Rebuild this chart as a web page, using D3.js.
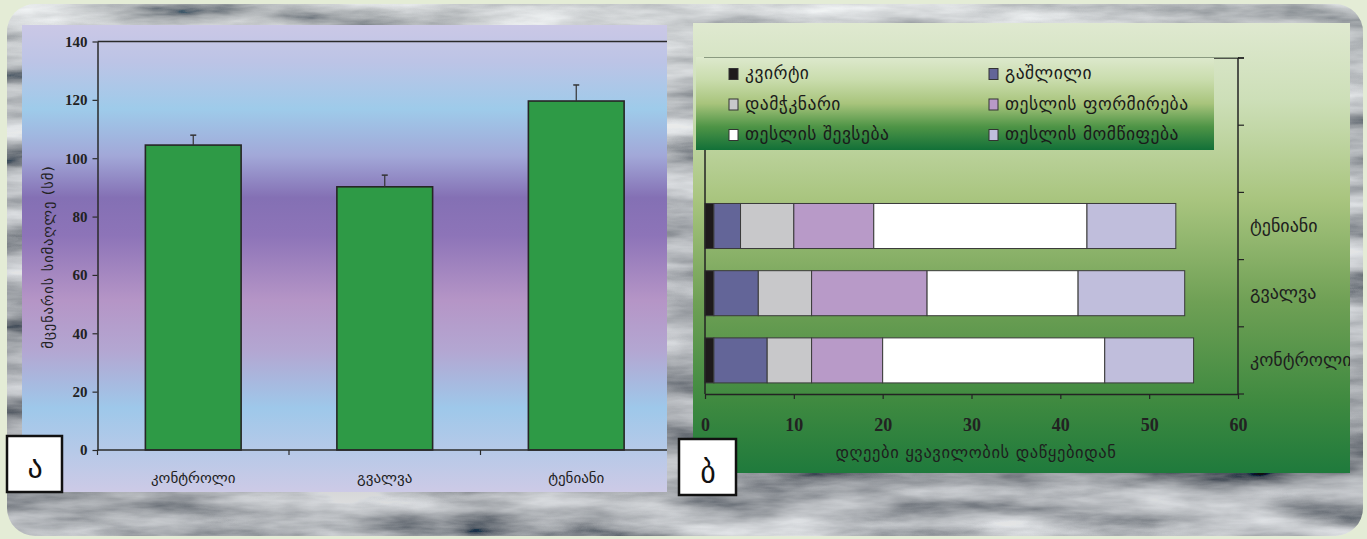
<!DOCTYPE html>
<html><head><meta charset="utf-8">
<script src="https://cdn.jsdelivr.net/npm/d3@7"></script>
<style>html,body{margin:0;padding:0;background:#e6eed8;} svg{display:block}</style>
</head><body><svg id="c" width="1367" height="539"></svg>
<script>
// ---------- DATA ----------
const categories = ["კონტროლი", "გვალვა", "ტენიანი"];
const heightMeans = [104.5, 90.2, 119.6];
const heightErrors = [3.4, 4.0, 5.5];
const heightTicks = [0, 20, 40, 60, 80, 100, 120, 140];
const heightTitle = "მცენარის სიმაღლე (სმ)";

const phases = ["კვირტი", "გაშლილი", "დამჭკნარი", "თესლის ფორმირება", "თესლის შევსება", "თესლის მომწიფება"];
// durations in days, order of categories: კონტროლი, გვალვა, ტენიანი
const budDays       = [1, 1, 1];
const openDays      = [6, 5, 3];
const wiltDays      = [5, 6, 6];
const seedFormDays  = [8, 13, 9];
const seedFillDays  = [25, 17, 24];
const seedRipeDays  = [10, 12, 10];
const dayTicks = [0, 10, 20, 30, 40, 50, 60];
const dayTitle = "დღეები ყვავილობის დაწყებიდან";
const panelLabels = ["ა", "ბ"];

// ---------- SETUP ----------
const svg = d3.select("#c");
const defs = svg.append("defs");
const GEO = "'DejaVu Sans', sans-serif";
const NUM = "'Liberation Serif', serif";

// stone texture
const f = defs.append("filter").attr("id", "stone").attr("x", 0).attr("y", 0).attr("width", "100%").attr("height", "100%");
f.append("feTurbulence").attr("type", "fractalNoise").attr("baseFrequency", "0.007 0.035").attr("numOctaves", 5).attr("seed", 11).attr("result", "n");
f.append("feColorMatrix").attr("in", "n").attr("type", "matrix")
  .attr("values", "1.5 0 0 0 -0.24  1.5 0 0 0 -0.22  1.5 0 0 0 -0.19  0 0 0 0 1");
defs.append("clipPath").attr("id", "frameClip").append("rect")
  .attr("x", 7).attr("y", 4).attr("width", 1356).attr("height", 532).attr("rx", 28);

svg.append("rect").attr("width", 1367).attr("height", 539).attr("fill", "#e4ecd6");
const fr = svg.append("g").attr("clip-path", "url(#frameClip)");
fr.append("rect").attr("x", 7).attr("y", 4).attr("width", 1356).attr("height", 532).attr("filter", "url(#stone)");
const shade = defs.append("linearGradient").attr("id", "shade").attr("x1", 0).attr("y1", 0).attr("x2", 0).attr("y2", 1);
shade.append("stop").attr("offset", 0).attr("stop-color", "#d8dcd8").attr("stop-opacity", 0.3);
shade.append("stop").attr("offset", 0.5).attr("stop-color", "#707478").attr("stop-opacity", 0.2);
shade.append("stop").attr("offset", 0.88).attr("stop-color", "#3a3e44").attr("stop-opacity", 0.25);
shade.append("stop").attr("offset", 1).attr("stop-color", "#8a8e90").attr("stop-opacity", 0.2);
fr.append("rect").attr("x", 7).attr("y", 4).attr("width", 1356).attr("height", 532).attr("fill", "url(#shade)");

function vgrad(id, stops) {
  const g = defs.append("linearGradient").attr("id", id).attr("x1", 0).attr("y1", 0).attr("x2", 0).attr("y2", 1);
  stops.forEach(s => g.append("stop").attr("offset", s[0]).attr("stop-color", s[1]));
}
vgrad("leftBg", [[0, "#cbc8e6"], [0.08, "#bcc4e6"], [0.18, "#9ecbea"], [0.28, "#a2a8d8"], [0.37, "#8470b4"], [0.45, "#8d74b8"], [0.59, "#b595c6"], [0.7, "#b3a7d2"], [0.82, "#9ec8ea"], [1, "#cdcae6"]]);
vgrad("rightBg", [[0, "#dfe9d0"], [0.17, "#cddfb8"], [0.39, "#a9c57f"], [0.62, "#6fa055"], [0.84, "#3f8a40"], [1, "#1f7a3c"]]);
vgrad("legBg", [[0, "#dde9cd"], [0.25, "#c9dcac"], [0.5, "#a8c47c"], [0.75, "#4e9446"], [1, "#127038"]]);

// ---------- LEFT PANEL ----------
const L = {x0: 22, y0: 25, x1: 667, y1: 492};
defs.append("clipPath").attr("id", "leftClip").append("rect")
  .attr("x", L.x0).attr("y", L.y0).attr("width", L.x1 - L.x0).attr("height", L.y1 - L.y0);
const lp = svg.append("g").attr("clip-path", "url(#leftClip)");
lp.append("rect").attr("x", L.x0).attr("y", L.y0).attr("width", L.x1 - L.x0).attr("height", L.y1 - L.y0).attr("fill", "url(#leftBg)");

const xL = d3.scaleBand().domain(categories).range([97.5, 97.5 + 3 * 191.5]).paddingInner(0.5).paddingOuter(0.25);
const yL = d3.scaleLinear().domain([0, 140]).range([450, 41.5]);

lp.append("line").attr("x1", 97.5).attr("x2", 680).attr("y1", yL(140)).attr("y2", yL(140)).attr("stroke", "#2a2a2a").attr("stroke-width", 1.5);

lp.selectAll("rect.bar").data(categories).join("rect").attr("class", "bar")
  .attr("x", d => xL(d)).attr("width", xL.bandwidth())
  .attr("y", (d, i) => yL(heightMeans[i])).attr("height", (d, i) => yL(0) - yL(heightMeans[i]))
  .attr("fill", "#2e9a46").attr("stroke", "#262626").attr("stroke-width", 1.6);
const eb = lp.selectAll("g.err").data(categories).join("g").attr("class", "err");
eb.append("line").attr("x1", d => xL(d) + xL.bandwidth() / 2).attr("x2", d => xL(d) + xL.bandwidth() / 2)
  .attr("y1", (d, i) => yL(heightMeans[i])).attr("y2", (d, i) => yL(heightMeans[i] + heightErrors[i]))
  .attr("stroke", "#333").attr("stroke-width", 1.2);
eb.append("line").attr("x1", d => xL(d) + xL.bandwidth() / 2 - 3).attr("x2", d => xL(d) + xL.bandwidth() / 2 + 3)
  .attr("y1", (d, i) => yL(heightMeans[i] + heightErrors[i])).attr("y2", (d, i) => yL(heightMeans[i] + heightErrors[i]))
  .attr("stroke", "#333").attr("stroke-width", 1.5);

const yAx = lp.append("g").attr("transform", "translate(97.5,0)")
  .call(d3.axisLeft(yL).tickValues(heightTicks).tickSize(5).tickPadding(5).tickSizeOuter(0));
yAx.select(".domain").attr("stroke", "#2a2a2a").attr("stroke-width", 1.5);
yAx.selectAll(".tick line").attr("stroke", "#2a2a2a").attr("stroke-width", 1.2);
yAx.selectAll("text").attr("font-family", NUM).attr("font-weight", "bold").attr("font-size", 15).attr("fill", "#222");

const xAx = lp.append("g").attr("transform", "translate(0,450)")
  .call(d3.axisBottom(xL).tickSize(0).tickPadding(22));
xAx.select(".domain").remove();
xAx.selectAll("text").attr("font-family", GEO).attr("font-size", 15).attr("fill", "#1e1e1e");
lp.append("line").attr("x1", 97.5).attr("x2", 680).attr("y1", 450).attr("y2", 450).attr("stroke", "#2a2a2a").attr("stroke-width", 1.5);
lp.selectAll("line.bt").data(d3.range(categories.length + 1)).join("line").attr("class", "bt")
  .attr("x1", i => 97.5 + i * xL.step()).attr("x2", i => 97.5 + i * xL.step())
  .attr("y1", 450).attr("y2", 455).attr("stroke", "#2a2a2a").attr("stroke-width", 1.2);

lp.append("text").attr("transform", "translate(49,257) rotate(-90)").attr("text-anchor", "middle")
  .attr("dominant-baseline", "middle").attr("font-family", GEO).attr("font-size", 14.5).attr("fill", "#222")
  .attr("letter-spacing", 0.9).text(heightTitle);

// ---------- RIGHT PANEL ----------
const R = {x0: 693, y0: 23, x1: 1350, y1: 473};
defs.append("clipPath").attr("id", "rightClip").append("rect")
  .attr("x", R.x0).attr("y", R.y0).attr("width", R.x1 - R.x0).attr("height", R.y1 - R.y0);
const rp = svg.append("g").attr("clip-path", "url(#rightClip)");
rp.append("rect").attr("x", R.x0).attr("y", R.y0).attr("width", R.x1 - R.x0).attr("height", R.y1 - R.y0).attr("fill", "url(#rightBg)");

const slots = ["·1", "·2", "ტენიანი", "გვალვა", "კონტროლი"];
const xR = d3.scaleLinear().domain([0, 60]).range([705, 1238]);
const yR = d3.scaleBand().domain(slots).range([58, 394]).paddingInner(0.33).paddingOuter(0.165);

const phaseArrays = [budDays, openDays, wiltDays, seedFormDays, seedFillDays, seedRipeDays];
const phaseColors = ["#1e1a1c", "#636598", "#c8c8ca", "#b89ac8", "#ffffff", "#c0bedc"];
const rows = categories.map((c, i) => {
  const o = {cat: c};
  phases.forEach((p, j) => o[p] = phaseArrays[j][i]);
  return o;
});
const stacked = d3.stack().keys(phases)(rows);
const col = d3.scaleOrdinal().domain(phases).range(phaseColors);

rp.selectAll("g.layer").data(stacked).join("g").attr("class", "layer").attr("fill", d => col(d.key))
  .selectAll("rect").data(d => d).join("rect")
  .attr("x", d => xR(d[0])).attr("width", d => xR(d[1]) - xR(d[0]))
  .attr("y", d => yR(d.data.cat)).attr("height", yR.bandwidth())
  .attr("stroke", "#3a3a3a").attr("stroke-width", 1);

const frameC = "#232323";
rp.append("line").attr("x1", xR(0)).attr("x2", xR(0)).attr("y1", 58).attr("y2", 394).attr("stroke", frameC).attr("stroke-width", 1.5);
rp.append("line").attr("x1", xR(60)).attr("x2", xR(60)).attr("y1", 57).attr("y2", 394).attr("stroke", frameC).attr("stroke-width", 1.5);
rp.append("line").attr("x1", xR(0)).attr("x2", xR(60) + 6).attr("y1", 58).attr("y2", 58).attr("stroke", frameC).attr("stroke-width", 1.5);

const xrAx = rp.append("g").attr("transform", "translate(0,394)")
  .call(d3.axisBottom(xR).tickValues(dayTicks).tickSize(5).tickPadding(19).tickSizeOuter(0));
xrAx.select(".domain").attr("stroke", frameC).attr("stroke-width", 1.5);
xrAx.selectAll(".tick line").attr("stroke", frameC).attr("stroke-width", 1.2);
xrAx.selectAll("text").attr("font-family", NUM).attr("font-weight", "bold").attr("font-size", 18).attr("fill", "#222");

const yrAx = rp.append("g").attr("transform", `translate(${xR(60)},0)`)
  .call(d3.axisRight(yR).tickSize(0).tickPadding(12).tickFormat(d => categories.includes(d) ? d : ""));
yrAx.select(".domain").remove();
yrAx.selectAll("text").attr("font-family", GEO).attr("font-size", 18).attr("fill", "#1e1e1e");
rp.selectAll("line.rt").data(d3.range(slots.length + 1)).join("line").attr("class", "rt")
  .attr("x1", xR(60)).attr("x2", xR(60) + 6)
  .attr("y1", i => 58 + i * yR.step()).attr("y2", i => 58 + i * yR.step())
  .attr("stroke", frameC).attr("stroke-width", 1.2);

rp.append("text").attr("x", 976).attr("y", 453).attr("text-anchor", "middle").attr("dominant-baseline", "middle")
  .attr("font-family", GEO).attr("font-size", 16.5).attr("fill", "#1e1e1e").attr("letter-spacing", 0.6).text(dayTitle);

const leg = rp.append("g");
leg.append("rect").attr("x", 696).attr("y", 57).attr("width", 518).attr("height", 93).attr("fill", "url(#legBg)");
leg.append("line").attr("x1", 704).attr("x2", 1238).attr("y1", 57.5).attr("y2", 57.5).attr("stroke", "#8a9a80").attr("stroke-width", 1);
const legRowY = [74, 104.5, 135];
const legColX = [729, 989];
const li = leg.selectAll("g.li").data(phases).join("g").attr("class", "li")
  .attr("transform", (d, i) => `translate(${legColX[i % 2]},${legRowY[Math.floor(i / 2)]})`);
li.append("rect").attr("x", 0).attr("y", -5.5).attr("width", 9).attr("height", 11)
  .attr("fill", d => col(d)).attr("stroke", "#333").attr("stroke-width", 1);
li.append("text").attr("x", 16).attr("y", 0).attr("dominant-baseline", "middle")
  .attr("font-family", GEO).attr("font-size", 17.5).attr("fill", "#1a1a1a").attr("letter-spacing", 0.5).text(d => d);

// ---------- PANEL LABEL BOXES ----------
const boxes = [{x: 7, y: 436, w: 55, h: 56, base: 478, cx: 35}, {x: 679, y: 439, w: 57, h: 56, base: 483, cx: 708}];
const bx = svg.selectAll("g.box").data(boxes).join("g").attr("class", "box");
bx.append("rect").attr("x", d => d.x).attr("y", d => d.y).attr("width", d => d.w).attr("height", d => d.h)
  .attr("fill", "#ffffff").attr("stroke", "#111").attr("stroke-width", 2.5);
bx.append("text").attr("x", d => d.cx).attr("y", d => d.base).attr("text-anchor", "middle")
  .attr("font-family", GEO).attr("font-size", 30).attr("fill", "#111").text((d, i) => panelLabels[i]);
</script>
</body></html>
